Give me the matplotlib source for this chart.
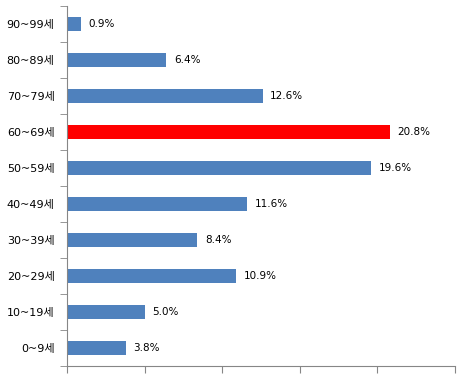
import numpy as np
import matplotlib
matplotlib.use('Agg')
import matplotlib.pyplot as plt

plt.rcParams['font.family'] = ['DejaVu Sans', 'Noto Sans CJK KR']

ages = ['0~9세', '10~19세', '20~29세', '30~39세', '40~49세',
        '50~59세', '60~69세', '70~79세', '80~89세', '90~99세']
shares = [3.8, 5.0, 10.9, 8.4, 11.6, 19.6, 20.8, 12.6, 6.4, 0.9]
highlight = '60~69세'

blue = '#4F81BD'
red = '#FF0000'
axis_color = '#868686'

fig = plt.figure(figsize=(4.71, 3.75), dpi=100)
ax = fig.add_axes([67 / 471, 1 - 366 / 375, (455 - 67) / 471, (366 - 6) / 375])

y = np.arange(len(ages))
colors = [red if a == highlight else blue for a in ages]
ax.barh(y, shares, height=0.39, color=colors)

for yi, v in zip(y, shares):
    ax.annotate(f'{v:.1f}%', (v, yi), xytext=(5.5, 0), textcoords='offset points',
                va='center', ha='left', fontsize=7.5, color='black')

ax.set_xlim(0, 25)
ax.set_ylim(-0.5, len(ages) - 0.5)
ax.set_xticks(np.arange(0, 26, 5))
ax.set_xticklabels([])
ax.set_yticks(y)
ax.set_yticklabels(ages, fontsize=8)
ax.set_yticks(np.arange(-0.5, len(ages)), minor=True)
ax.tick_params(axis='y', which='major', length=0, pad=9)
ax.tick_params(axis='y', which='minor', length=5, color=axis_color, direction='out')
ax.tick_params(axis='x', length=5, color=axis_color, direction='out')

for side in ['top', 'right']:
    ax.spines[side].set_visible(False)
for side in ['left', 'bottom']:
    ax.spines[side].set_color(axis_color)

fig.savefig('out.png', dpi=100)
